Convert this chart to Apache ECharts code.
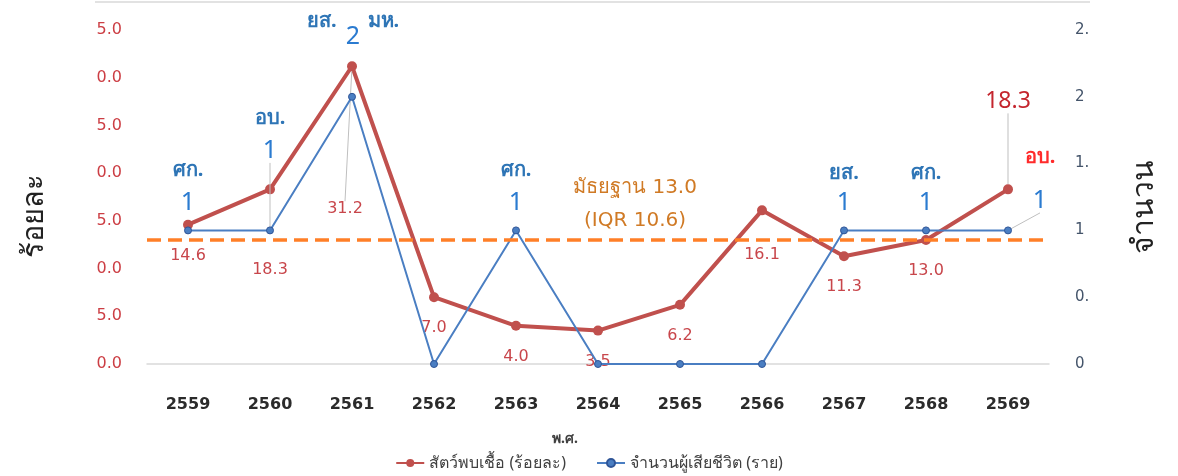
<!DOCTYPE html>
<html>
<head>
<meta charset="utf-8">
<script src="https://cdn.jsdelivr.net/npm/echarts@6/dist/echarts.min.js"></script>
<style>
html,body{margin:0;padding:0;background:#fff;}
#c{width:1178px;height:476px;}
</style>
</head>
<body>
<div id="c"></div>
<script>
// ---- data ----
var years = ['2559','2560','2561','2562','2563','2564','2565','2566','2567','2568','2569'];
var infectedPct = [14.6, 18.3, 31.2, 7.0, 4.0, 3.5, 6.2, 16.1, 11.3, 13.0, 18.3];
var deaths = [1, 1, 2, 0, 1, 0, 0, 0, 1, 1, 1];
var deathProvinces = ['ศก.', 'อบ.', 'ยส.|มห.', '', 'ศก.', '', '', '', 'ยส.', 'ศก.', 'อบ.'];
var leftTickLabels = {0:'0.0', 5:'5.0', 10:'0.0', 15:'5.0', 20:'0.0', 25:'5.0', 30:'0.0', 35:'5.0'};
var rightTickLabels = {0:'0', 0.5:'0.', 1:'1', 1.5:'1.', 2:'2', 2.5:'2.'};
var medianValue = 13.0;
var iqrValue = 10.6;
var seriesNames = ['สัตว์พบเชื้อ (ร้อยละ)', 'จำนวนผู้เสียชีวิต (ราย)'];

// ---- label placement (styling only) ----
var redLabelShift = {1: [0, 49], 2: [-7, 112], 7: [0, 13], 10: [0, 9]};
var blueLabelShift = {1: [0, -52], 2: [1, -38], 10: [32, -2]};

var FONT = '"Noto Sans", "DejaVu Sans", sans-serif';
var DV = '"DejaVu Sans", "Noto Sans", sans-serif';
var RED = '#C0504D';
var BLUE = '#4A7EC2';

var redData = infectedPct.map(function (v, i) {
  var item = {value: v};
  if (i === infectedPct.length - 1) {
    item.label = {position: 'top', distance: 80, fontSize: 23, color: '#C4262E', fontFamily: FONT};
    item.labelLine = {show: true};
  }
  if (i === 2) item.labelLine = {show: true};
  return item;
});

var blueData = deaths.map(function (v, i) {
  var p = deathProvinces[i];
  var item = {value: v};
  if (!p) {
    item.label = {show: false};
  } else if (p.indexOf('|') >= 0) {
    var parts = p.split('|');
    item.label = {formatter: '{pt|' + parts[0] + '}{s| }{pt|' + parts[1] + '}\n{n2|{c}}'};
  } else if (i === deaths.length - 1) {
    item.label = {formatter: '{pr|' + p + '}\n{n|{c}}'};
    item.labelLine = {show: true};
  } else if (i >= 8) {
    item.label = {formatter: '{p2|' + p + '}\n{n|{c}}'};
  } else {
    item.label = {formatter: '{p|' + p + '}\n{n|{c}}'};
  }
  if (i === 1) item.labelLine = {show: true};
  return item;
});

var chart = echarts.init(document.getElementById('c'), null, {renderer: 'canvas'});
chart.setOption({
  animation: false,
  textStyle: {fontFamily: FONT},
  grid: {left: 147, right: 129, top: 30, bottom: 112, containLabel: false},
  legend: {
    bottom: 0, left: 'center',
    itemWidth: 28, itemHeight: 10, itemGap: 30,
    textStyle: {fontSize: 16, color: '#404040', fontFamily: FONT},
    data: seriesNames
  },
  xAxis: {
    type: 'category', data: years, boundaryGap: true,
    name: 'พ.ศ.', nameLocation: 'middle', nameGap: 68,
    nameTextStyle: {fontSize: 14, color: '#404040', fontWeight: 'bold', padding: [0, 66, 0, 0]},
    axisLine: {lineStyle: {color: '#D9D9D9', width: 1.5}},
    axisTick: {show: false},
    axisLabel: {fontSize: 16, color: '#2b2b2b', margin: 33, fontWeight: 'bold', fontFamily: DV}
  },
  yAxis: [{
    type: 'value', min: 0, max: 35, interval: 5,
    name: 'ร้อยละ', nameLocation: 'middle', nameRotate: 90, nameGap: 98,
    nameTextStyle: {fontSize: 29, color: '#222222', padding: [0, 38, 0, 0]},
    axisLine: {show: false}, axisTick: {show: false}, splitLine: {show: false},
    axisLabel: {fontSize: 16, color: '#CC3E44', margin: 25, fontFamily: DV,
      formatter: function (v) { return leftTickLabels[v] !== undefined ? leftTickLabels[v] : ''; }}
  }, {
    type: 'value', min: 0, max: 2.5, interval: 0.5, position: 'right',
    name: 'จำนวน', nameLocation: 'middle', nameRotate: 90, nameGap: 80,
    nameTextStyle: {fontSize: 30, color: '#222222', padding: [0, 20, 0, 0]},
    axisLine: {show: false}, axisTick: {show: false}, splitLine: {show: false},
    axisLabel: {fontSize: 15, color: '#44546A', margin: 26, fontFamily: DV,
      formatter: function (v) { return rightTickLabels[v] !== undefined ? rightTickLabels[v] : ''; }}
  }],
  series: [{
    name: seriesNames[0], type: 'line', yAxisIndex: 0, data: redData,
    z: 3,
    symbol: 'circle', symbolSize: 10,
    lineStyle: {color: RED, width: 4},
    itemStyle: {color: RED},
    label: {show: true, position: 'bottom', distance: 18, fontSize: 16, color: '#C8464B', fontFamily: DV,
      formatter: function (p) { return p.value.toFixed(1); }},
    labelLine: {show: false, lineStyle: {color: '#BFBFBF', width: 1}},
    labelLayout: function (params) {
      var s = redLabelShift[params.dataIndex];
      return s ? {dx: s[0], dy: s[1]} : {};
    },
    markLine: {
      silent: true, symbol: 'none',
      lineStyle: {color: '#FF7F27', type: [14, 7], width: 3.5},
      label: {
        show: true, position: 'middle', distance: 3,
        formatter: 'มัธยฐาน ' + medianValue.toFixed(1) + '\n(IQR ' + iqrValue.toFixed(1) + ')',
        fontSize: 20, color: '#D07A25', lineHeight: 33, fontFamily: DV,
        padding: [0, 0, 0, 74]
      },
      data: [{yAxis: medianValue}]
    }
  }, {
    name: seriesNames[1], type: 'line', yAxisIndex: 1, data: blueData,
    z: 4,
    symbol: 'circle', symbolSize: 7,
    lineStyle: {color: BLUE, width: 2},
    itemStyle: {color: BLUE, borderColor: '#2F5597', borderWidth: 1},
    label: {
      show: true, position: 'top', distance: 8, align: 'center',
      rich: {
        p: {color: '#2E75B6', fontWeight: 'bold', fontSize: 20, lineHeight: 32, fontFamily: FONT},
        pt: {color: '#2E75B6', fontWeight: 'bold', fontSize: 20, lineHeight: 12, fontFamily: FONT},
        s: {width: 31, lineHeight: 12},
        p2: {color: '#2E75B6', fontWeight: 'bold', fontSize: 20, lineHeight: 27, fontFamily: FONT},
        pr: {color: '#FF2B2B', fontWeight: 'bold', fontSize: 20, lineHeight: 54, fontFamily: FONT},
        n: {color: '#2B7BD0', fontSize: 25, lineHeight: 32, fontFamily: FONT},
        n2: {color: '#2B7BD0', fontSize: 25, lineHeight: 20, fontFamily: FONT}
      }
    },
    labelLine: {show: false, lineStyle: {color: '#BFBFBF', width: 1}},
    labelLayout: function (params) {
      var s = blueLabelShift[params.dataIndex];
      return s ? {dx: s[0], dy: s[1]} : {};
    }
  }],
  graphic: [{
    type: 'line', shape: {x1: 95, y1: 2, x2: 1090, y2: 2},
    style: {stroke: '#D9D9D9', lineWidth: 1.5}, silent: true
  }]
});
</script>
</body>
</html>
